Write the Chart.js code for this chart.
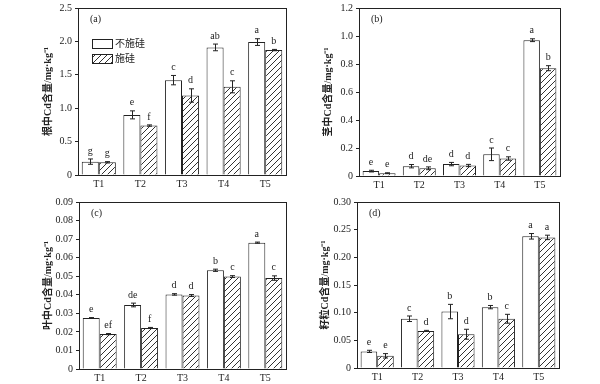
<!DOCTYPE html>
<html>
<head>
<meta charset="utf-8">
<script src="https://cdn.jsdelivr.net/npm/chart.js@4.4.0/dist/chart.umd.min.js"></script>
<style>
  body { margin: 0; background: #fff; width: 600px; height: 384px; position: relative; overflow: hidden; }
  canvas { position: absolute; }
</style>
</head>
<body>
<canvas id="chartA" width="300" height="192" style="left:0;top:0"></canvas>
<canvas id="chartB" width="300" height="192" style="left:300px;top:0"></canvas>
<canvas id="chartC" width="300" height="192" style="left:0;top:192px"></canvas>
<canvas id="chartD" width="300" height="192" style="left:300px;top:192px"></canvas>
<script>
// catégories et séries
const categories = ['T1', 'T2', 'T3', 'T4', 'T5'];
const seriesNames = ['不施硅', '施硅'];

// (a) racine
const rootNoSi = [0.20, 0.90, 1.42, 1.91, 1.99];
const rootSi = [0.19, 0.74, 1.19, 1.32, 1.87];
const rootNoSiErr = [0.04, 0.06, 0.07, 0.05, 0.05];
const rootSiErr = [0.01, 0.01, 0.10, 0.09, 0.01];
const rootNoSiSig = ['g', 'e', 'c', 'ab', 'a'];
const rootSiSig = ['g', 'f', 'd', 'c', 'b'];
const rootTicks = ['0', '0.5', '1.0', '1.5', '2.0', '2.5'];

// (b) tige
const stemNoSi = [0.035, 0.070, 0.085, 0.155, 0.970];
const stemSi = [0.020, 0.055, 0.075, 0.125, 0.770];
const stemNoSiErr = [0.006, 0.012, 0.012, 0.045, 0.010];
const stemSiErr = [0.003, 0.010, 0.008, 0.012, 0.018];
const stemNoSiSig = ['e', 'd', 'd', 'c', 'a'];
const stemSiSig = ['e', 'de', 'd', 'c', 'b'];
const stemTicks = ['0', '0.2', '0.4', '0.6', '0.8', '1.0', '1.2'];

// (c) feuille
const leafNoSi = [0.0275, 0.0345, 0.0402, 0.0532, 0.0681];
const leafSi = [0.0188, 0.0221, 0.0396, 0.0498, 0.0490];
const leafNoSiErr = [0.0002, 0.0010, 0.0004, 0.0006, 0.0003];
const leafSiErr = [0.0003, 0.0003, 0.0005, 0.0005, 0.0012];
const leafNoSiSig = ['e', 'de', 'd', 'b', 'a'];
const leafSiSig = ['ef', 'f', 'd', 'c', 'c'];
const leafTicks = ['0', '0.01', '0.02', '0.03', '0.04', '0.05', '0.06', '0.07', '0.08', '0.09'];

// (d) grain
const grainNoSi = [0.030, 0.089, 0.102, 0.110, 0.238];
const grainSi = [0.022, 0.067, 0.061, 0.089, 0.236];
const grainNoSiErr = [0.002, 0.005, 0.013, 0.003, 0.005];
const grainSiErr = [0.004, 0.001, 0.009, 0.008, 0.004];
const grainNoSiSig = ['e', 'c', 'b', 'b', 'a'];
const grainSiSig = ['e', 'd', 'd', 'c', 'a'];
const grainTicks = ['0', '0.05', '0.10', '0.15', '0.20', '0.25', '0.30'];

const serif = 'Liberation Serif, Times New Roman, serif';
const cjk = 'Liberation Serif, Noto Sans CJK SC, serif';
const ink = '#222';

// motif hachuré
function hatchPattern() {
    const c = document.createElement('canvas');
    c.width = 6; c.height = 6;
    const g = c.getContext('2d');
    g.fillStyle = '#fff';
    g.fillRect(0, 0, 6, 6);
    g.strokeStyle = '#333';
    g.lineWidth = 1;
    g.beginPath();
    g.moveTo(0, 6); g.lineTo(6, 0);
    g.moveTo(-1, 1); g.lineTo(1, -1);
    g.moveTo(5, 7); g.lineTo(7, 5);
    g.stroke();
    return g.createPattern(c, 'repeat');
}

// cadre, barres d'erreur, lettres
const decorPlugin = {
    id: 'decor',
    afterDatasetsDraw(chart, args, opts) {
        const ctx = chart.ctx;
        const area = chart.chartArea;
        const yScale = chart.scales.y;
        ctx.save();
        ctx.strokeStyle = ink;
        ctx.lineWidth = 1;
        ctx.strokeRect(Math.round(area.left) + 0.5, Math.round(area.top) + 0.5,
            Math.round(area.right - area.left), Math.round(area.bottom - area.top));

        chart.data.datasets.forEach((ds, i) => {
            const meta = chart.getDatasetMeta(i);
            meta.data.forEach((bar, j) => {
                const v = ds.data[j];
                const e = ds.errors[j];
                const yTop = yScale.getPixelForValue(v + e);
                const yBot = yScale.getPixelForValue(v - e);
                const x = Math.round(bar.x) + 0.5;
                ctx.beginPath();
                ctx.moveTo(x, yTop); ctx.lineTo(x, yBot);
                ctx.moveTo(x - 2.5, yTop); ctx.lineTo(x + 2.5, yTop);
                ctx.moveTo(x - 2.5, yBot); ctx.lineTo(x + 2.5, yBot);
                ctx.stroke();
                ctx.fillStyle = ink;
                ctx.font = '10px ' + serif;
                ctx.textAlign = 'center';
                ctx.textBaseline = 'bottom';
                ctx.fillText(ds.sig[j], bar.x, yTop - 3);
            });
        });

        ctx.font = '10px ' + serif;
        ctx.textAlign = 'left';
        ctx.textBaseline = 'middle';
        ctx.fillStyle = ink;
        ctx.fillText(opts.tag, area.left + 12, area.top + 11);

        if (opts.legend) {
            const lx = area.left + 14, ly = area.top + 31;
            ctx.fillStyle = '#fff';
            ctx.fillRect(lx, ly, 20, 9);
            ctx.strokeRect(lx + 0.5, ly + 0.5, 20, 9);
            ctx.fillStyle = hatchPattern();
            ctx.fillRect(lx, ly + 15, 20, 9);
            ctx.strokeRect(lx + 0.5, ly + 15.5, 20, 9);
            ctx.fillStyle = ink;
            ctx.font = '10px ' + cjk;
            ctx.fillText(seriesNames[0], lx + 23, ly + 5);
            ctx.fillText(seriesNames[1], lx + 23, ly + 20);
        }
        ctx.restore();
    }
};

function makePanel(id, cfg) {
    const pad = cfg.pad;
    new Chart(document.getElementById(id), {
        type: 'bar',
        data: {
            labels: categories,
            datasets: [{
                label: seriesNames[0],
                data: cfg.noSi,
                errors: cfg.noSiErr,
                sig: cfg.noSiSig,
                backgroundColor: '#fff',
                borderColor: ink,
                borderWidth: 1
            }, {
                label: seriesNames[1],
                data: cfg.si,
                errors: cfg.siErr,
                sig: cfg.siSig,
                backgroundColor: hatchPattern(),
                borderColor: ink,
                borderWidth: 1
            }]
        },
        options: {
            responsive: false,
            animation: false,
            layout: { padding: { left: pad.left, right: pad.right, top: pad.top, bottom: 0 } },
            datasets: { bar: { categoryPercentage: 0.82, barPercentage: 1.0 } },
            plugins: {
                legend: { display: false },
                tooltip: { enabled: false },
                decor: { tag: cfg.tag, legend: cfg.legend }
            },
            scales: {
                x: {
                    grid: { display: false, drawTicks: false, tickLength: 0 },
                    border: { color: ink },
                    ticks: { color: ink, padding: 3, font: { family: serif, size: 10 } },
                    afterFit(scale) { scale.height = pad.xh; scale.paddingLeft = 0; scale.paddingRight = 0; }
                },
                y: {
                    min: 0,
                    max: cfg.max,
                    ticks: {
                        stepSize: cfg.step,
                        color: ink,
                        padding: 3,
                        font: { family: serif, size: 10 },
                        callback: (v, i) => cfg.ticks[i]
                    },
                    grid: { drawOnChartArea: false, tickLength: 3, color: ink },
                    border: { color: ink },
                    title: {
                        display: true,
                        text: cfg.title,
                        color: ink,
                        font: { family: cjk, size: 10, weight: 'bold' }
                    },
                    afterFit(scale) { scale.width = pad.yw; scale.paddingTop = 0; scale.paddingBottom = 0; }
                }
            }
        },
        plugins: [decorPlugin]
    });
}

makePanel('chartA', {
    noSi: rootNoSi, si: rootSi, noSiErr: rootNoSiErr, siErr: rootSiErr,
    noSiSig: rootNoSiSig, siSig: rootSiSig, ticks: rootTicks, max: 2.5, step: 0.5,
    title: '根中Cd含量/mg·kg⁻¹', tag: '(a)', legend: true,
    pad: { left: 38, yw: 40, right: 14, top: 8, xh: 17 }
});
makePanel('chartB', {
    noSi: stemNoSi, si: stemSi, noSiErr: stemNoSiErr, siErr: stemSiErr,
    noSiSig: stemNoSiSig, siSig: stemSiSig, ticks: stemTicks, max: 1.2, step: 0.2,
    title: '茎中Cd含量/mg·kg⁻¹', tag: '(b)', legend: false,
    pad: { left: 18, yw: 41, right: 40, top: 8, xh: 16 }
});
makePanel('chartC', {
    noSi: leafNoSi, si: leafSi, noSiErr: leafNoSiErr, siErr: leafSiErr,
    noSiSig: leafNoSiSig, siSig: leafSiSig, ticks: leafTicks, max: 0.09, step: 0.01,
    title: '叶中Cd含量/mg·kg⁻¹', tag: '(c)', legend: false,
    pad: { left: 38, yw: 41, right: 14, top: 10, xh: 15 }
});
makePanel('chartD', {
    noSi: grainNoSi, si: grainSi, noSiErr: grainNoSiErr, siErr: grainSiErr,
    noSiSig: grainNoSiSig, siSig: grainSiSig, ticks: grainTicks, max: 0.30, step: 0.05,
    title: '籽粒Cd含量/mg·kg⁻¹', tag: '(d)', legend: false,
    pad: { left: 15, yw: 42, right: 41, top: 10, xh: 16 }
});
</script>
</body>
</html>
